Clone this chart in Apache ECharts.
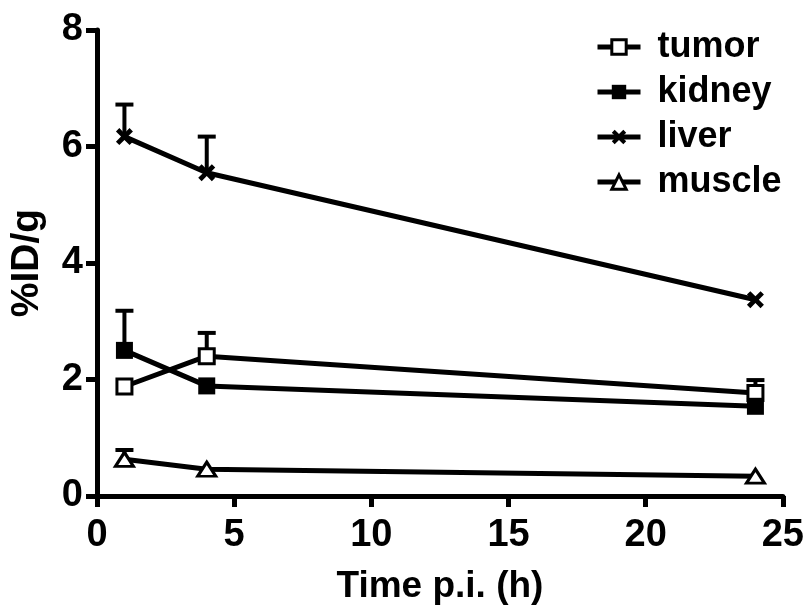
<!DOCTYPE html>
<html style="height: 100%">

<head>
    <meta charset="utf-8">
</head>

<body style="height: 100%; margin: 0; background: #fff">
    <div id="main" style="width: 807px; height: 610px"></div>

    <script type="text/javascript" src="https://cdn.jsdelivr.net/npm/echarts@6/dist/echarts.min.js"></script>

    <script type="text/javascript">
        // time points (h) and mean %ID/g with upper SD per organ
        var times = [1, 4, 24];
        var seriesNames = ['tumor', 'kidney', 'liver', 'muscle'];
        var tumor = [1.88, 2.40, 1.77];
        var tumorErr = [0, 0.40, 0.22];
        var kidney = [2.50, 1.89, 1.54];
        var kidneyErr = [0.68, 0, 0];
        var liver = [6.17, 5.55, 3.37];
        var liverErr = [0.55, 0.62, 0];
        var muscle = [0.63, 0.46, 0.34];
        var muscleErr = [0.16, 0, 0];

        var font = "'Liberation Sans', Arial, sans-serif";
        var crossPath = 'path://M0,2 L2,0 L5,3 L8,0 L10,2 L7,5 L10,8 L8,10 L5,7 L2,10 L0,8 L3,5 Z';
        var openStyle = { color: '#fff', borderColor: '#000', borderWidth: 3 };
        var solidStyle = { color: '#000', borderColor: '#000', borderWidth: 0 };

        function points(vals) {
            return times.map(function (t, i) { return [t, vals[i]]; });
        }

        function errPoints(vals, errs) {
            return times.map(function (t, i) { return [t, vals[i], errs[i]]; });
        }

        // upper error bar with a cap
        function renderErr(params, api) {
            var x = api.value(0), y = api.value(1), e = api.value(2);
            if (!e) return;
            var p0 = api.coord([x, y]);
            var p1 = api.coord([x, y + e]);
            var st = { stroke: '#000', lineWidth: 4 };
            return {
                type: 'group',
                children: [
                    { type: 'line', shape: { x1: p0[0], y1: p0[1], x2: p1[0], y2: p1[1] }, style: st },
                    { type: 'line', shape: { x1: p1[0] - 9, y1: p1[1], x2: p1[0] + 9, y2: p1[1] }, style: st }
                ]
            };
        }

        function errSeries(name, vals, errs) {
            return {
                type: 'custom',
                name: name + ' err',
                renderItem: renderErr,
                encode: { x: 0, y: 1 },
                data: errPoints(vals, errs),
                z: 1,
                silent: true
            };
        }

        function lineSeries(name, vals, symbol, size, open) {
            return {
                type: 'line',
                name: name,
                data: points(vals),
                symbol: symbol,
                symbolSize: size,
                showAllSymbol: true,
                lineStyle: { color: '#000', width: 5 },
                itemStyle: open ? openStyle : solidStyle,
                z: 3
            };
        }

        var chart = echarts.init(document.getElementById('main'));

        var option = {
            animation: false,
            backgroundColor: '#fff',
            grid: { left: 96, right: 21, top: 30, bottom: 112 },
            legend: {
                data: [
                    { name: 'tumor', itemStyle: openStyle },
                    { name: 'kidney', itemStyle: solidStyle },
                    { name: 'liver', itemStyle: solidStyle },
                    { name: 'muscle', itemStyle: openStyle }
                ],
                orient: 'vertical',
                left: 590,
                top: 24,
                itemWidth: 43,
                itemHeight: 18,
                itemGap: 9,
                lineStyle: { color: '#000', width: 5 },
                textStyle: {
                    fontFamily: font,
                    fontWeight: 'bold',
                    fontSize: 36,
                    color: '#000',
                    padding: [0, 0, 0, 12]
                }
            },
            xAxis: {
                type: 'value',
                min: 0,
                max: 25,
                interval: 5,
                name: 'Time p.i. (h)',
                nameLocation: 'middle',
                nameGap: 72,
                nameTextStyle: { fontFamily: font, fontWeight: 'bold', fontSize: 37, color: '#000' },
                axisLine: { show: true, lineStyle: { color: '#000', width: 5 } },
                axisTick: { show: true, length: 11, lineStyle: { color: '#000', width: 5 } },
                axisLabel: { fontFamily: font, fontWeight: 'bold', fontSize: 38, color: '#000', margin: 21 },
                splitLine: { show: false }
            },
            yAxis: {
                type: 'value',
                min: 0,
                max: 8,
                interval: 2,
                name: '%ID/g',
                nameLocation: 'middle',
                nameGap: 50,
                nameTextStyle: { fontFamily: font, fontWeight: 'bold', fontSize: 39, color: '#000' },
                axisLine: { show: true, lineStyle: { color: '#000', width: 5 } },
                axisTick: { show: true, length: 11, lineStyle: { color: '#000', width: 5 } },
                axisLabel: { fontFamily: font, fontWeight: 'bold', fontSize: 38, color: '#000', margin: 14 },
                splitLine: { show: false }
            },
            series: [
                errSeries('tumor', tumor, tumorErr),
                errSeries('kidney', kidney, kidneyErr),
                errSeries('liver', liver, liverErr),
                errSeries('muscle', muscle, muscleErr),
                lineSeries('tumor', tumor, 'rect', 15, true),
                lineSeries('kidney', kidney, 'rect', 17, false),
                lineSeries('liver', liver, crossPath, 17, false),
                lineSeries('muscle', muscle, 'triangle', [18, 14], true)
            ]
        };

        chart.setOption(option);
    </script>
</body>

</html>
